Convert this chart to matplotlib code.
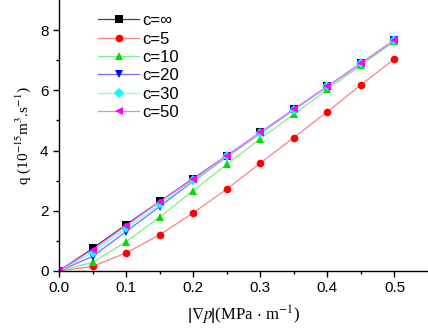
import numpy as np
import matplotlib
matplotlib.use("Agg")
import matplotlib.pyplot as plt

plt.rcParams['font.family'] = ['Liberation Sans', 'DejaVu Sans']
plt.rcParams['mathtext.fontset'] = 'stix'

grad_p = [0.0, 0.05, 0.1, 0.15, 0.2, 0.25, 0.3, 0.35, 0.4, 0.45, 0.5]

q_inf = [0.0, 0.75, 1.54, 2.31, 3.07, 3.83, 4.60, 5.37, 6.13, 6.90, 7.67]
q_5 = [0.0, 0.15, 0.60, 1.20, 1.93, 2.72, 3.58, 4.43, 5.29, 6.18, 7.04]
q_10 = [0.0, 0.29, 0.97, 1.79, 2.67, 3.54, 4.39, 5.20, 6.03, 6.83, 7.63]
q_20 = [0.0, 0.48, 1.31, 2.14, 2.98, 3.79, 4.57, 5.35, 6.12, 6.89, 7.66]
q_30 = [0.0, 0.61, 1.42, 2.22, 3.01, 3.81, 4.59, 5.36, 6.13, 6.90, 7.67]
q_50 = [0.0, 0.70, 1.50, 2.30, 3.05, 3.83, 4.60, 5.37, 6.13, 6.90, 7.67]

# (data, label, marker colour, line colour, marker)
series = [
    (q_inf, 'c=∞', 'black', '#404040', 's'),
    (q_5, 'c=5', 'red', '#ff8080', 'o'),
    (q_10, 'c=10', '#00e000', '#80f080', '^'),
    (q_20, 'c=20', 'blue', '#7070ff', 'v'),
    (q_30, 'c=30', 'cyan', '#70ffff', 'D'),
    (q_50, 'c=50', 'magenta', '#ff70ff', '<'),
]

fig = plt.figure(figsize=(4.28, 3.31), dpi=100)
ax = fig.add_axes([59/428, 1 - 271/331, 369/428, 271/331])

for q, lab, mc, lc, mk in series:
    ms = 4.8 if mk == 'D' else 5.5
    ax.plot(grad_p, q, color=lc, lw=0.9, marker=mk, markersize=ms,
            markerfacecolor=mc, markeredgewidth=0, label=lab)

ax.set_xlim(0, 0.55)
ax.set_ylim(0, 9)
ax.set_xticks([0.0, 0.1, 0.2, 0.3, 0.4, 0.5])
ax.set_xticks(np.arange(0.05, 0.55, 0.1), minor=True)
ax.set_yticks([0, 2, 4, 6, 8])
ax.set_yticks([1, 3, 5, 7], minor=True)
ax.set_xticklabels(['0.0', '0.1', '0.2', '0.3', '0.4', '0.5'])

for s in ['top', 'right']:
    ax.spines[s].set_visible(False)
for s in ['left', 'bottom']:
    ax.spines[s].set_linewidth(1.0)
ax.tick_params(which='major', direction='out', length=4.5, width=1.0,
               labelsize=11, pad=3)
ax.tick_params(which='minor', direction='out', length=2.5, width=1.0)

ax.set_xlabel(r'$\left|\nabla p\genfrac{}{}{0}{}{\ }{\ }\!\!\!\right|$(MPa$\,\cdot\,$m$^{\mathrm{-1}}$)',
              fontsize=12, family='Liberation Serif', labelpad=6)
ax.set_ylabel(r'q (10$^{\mathrm{-15}}$m$^{\mathrm{3}}$.s$^{\mathrm{-1}}$)',
              fontsize=11, family='Liberation Serif', labelpad=5)

ax.legend(loc='upper left', bbox_to_anchor=(0.07, 1.0), frameon=False,
          fontsize=12, handlelength=2.45, handletextpad=0.2,
          labelspacing=0.2, borderpad=0.3)

fig.savefig('out.png', dpi=100)
